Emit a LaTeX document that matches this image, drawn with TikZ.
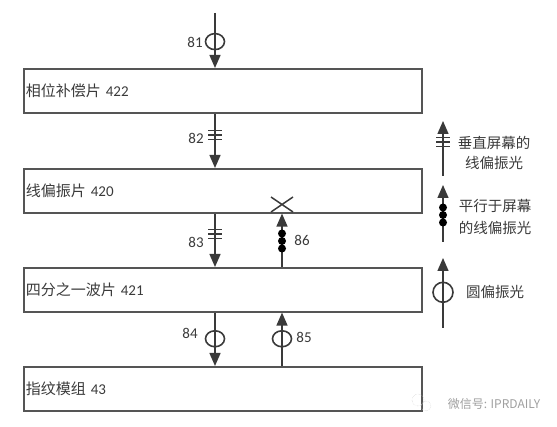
\documentclass[tikz,border=0pt]{standalone}
\usepackage{fontspec}
\setmainfont{Carlito}
\newfontfamily\cjk{Noto Sans CJK SC}
\usetikzlibrary{arrows.meta,shapes.geometric}
\definecolor{inkgray}{HTML}{3A3A3A}
\definecolor{boxgray}{HTML}{555555}
\tikzset{
  plate/.style={draw=boxgray,line width=1.6pt,minimum width=398pt,minimum height=44pt,
    text width=394pt,align=left,inner xsep=2pt,anchor=north west,text=inkgray,
    font=\fontsize{15}{17}\selectfont},
  ray/.style={draw=inkgray,line width=1.4pt,-{Triangle[length=13pt,width=11pt]}},
  ringmark/.style={draw=inkgray,line width=1.6pt,ellipse,minimum width=19pt,minimum height=16pt,inner sep=0pt},
  numlabel/.style={font=\fontsize{15}{17}\selectfont,text=inkgray},
  legtext/.style={font=\cjk\fontsize{14.5}{20}\selectfont,text=inkgray,align=center},
  pics/perpmark/.style={code={\foreach \d in {-4.5,0,4.5} \draw[inkgray,line width=1.3pt] (-7,\d) -- (7,\d);}},
  pics/paramark/.style={code={\foreach \d in {-7.5,0,7.5} \fill[black] (0,\d) circle (4);}},
}
\begin{document}
\begin{tikzpicture}[x=1pt,y=-1pt]
\useasboundingbox (0,0) rectangle (557,427);
% plates
\node[plate] (p422) at (23,68) {{\cjk 相位补偿片} 422};
\node[plate] (p420) at (23,168) {{\cjk 线偏振片} 420};
\node[plate] (p421) at (23,267) {{\cjk 四分之一波片} 421};
\node[plate] (m43) at (23,366) {{\cjk 指纹模组} 43};
% two columns of light
\coordinate (cl) at (215,0);
\coordinate (cr) at (282,0);
\coordinate (in81) at (215,13);
\draw[ray] (in81) -- (p422.north -| cl) node[ringmark,pos=0.52] {};
\node[numlabel] (l81) at (195,42) {81};
\draw[ray] (p422.south -| cl) -- (p420.north -| cl);
\pic at (215,135) {perpmark};
\node[numlabel] (l82) at (196,138) {82};
\draw[ray] (p420.south -| cl) -- (p421.north -| cl);
\pic at (215,234) {perpmark};
\node[numlabel] (l83) at (196,242) {83};
\draw[ray] (p421.north -| cr) -- (p420.south -| cr);
\pic at (282,241) {paramark};
\node[numlabel] (l86) at (302,240) {86};
\draw[inkgray,line width=1.5pt] (271,197) -- (293,212) (271,212) -- (293,197);
\draw[ray] (p421.south -| cl) -- (m43.north -| cl) node[ringmark,pos=0.49] {};
\node[numlabel] (l84) at (190,333) {84};
\draw[ray] (m43.north -| cr) -- (p421.south -| cr) node[ringmark,pos=0.51] {};
\node[numlabel] (l85) at (304,337) {85};
% legend
\coordinate (g1a) at (443,176); \coordinate (g1b) at (443,121);
\draw[ray] (g1a) -- (g1b);
\pic at (443,142) {perpmark};
\node[legtext] (t1) at (494,153) {垂直屏幕的\\线偏振光};
\coordinate (g2a) at (443,242); \coordinate (g2b) at (443,185);
\draw[ray] (g2a) -- (g2b);
\pic at (443,215) {paramark};
\node[legtext] (t2) at (495,217) {平行于屏幕\\[2pt]的线偏振光};
\coordinate (g3a) at (443,328); \coordinate (g3b) at (443,258);
\draw[ray] (g3a) -- (g3b) node[ringmark,pos=0.51,minimum width=20pt,minimum height=20pt] {};
\node[legtext] (t3) at (495,292) {圆偏振光};
% watermark
\draw[gray!45,densely dotted] (418,400) circle (6) (426,406) circle (5);
\node[font=\cjk\fontsize{12}{14}\selectfont,text=gray!75] (wm) at (494,404) {微信号: IPRDAILY};
\end{tikzpicture}
\end{document}
